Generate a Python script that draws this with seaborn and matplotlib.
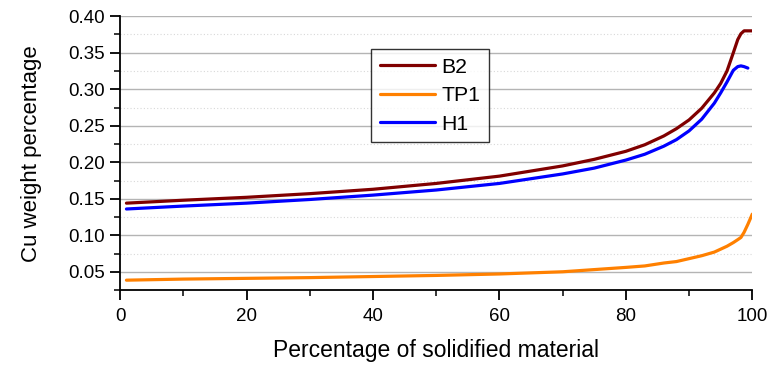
import numpy as np
import pandas as pd
import seaborn as sns
import matplotlib.pyplot as plt
from matplotlib.ticker import MultipleLocator

# Percentage of solidified material
solid_pct = [1, 10, 20, 30, 40, 50, 60, 70, 75, 80, 83, 86, 88, 90, 92, 94,
             95, 96, 97, 97.7, 98.2, 98.7, 99.3, 100]

# Cu weight percentage per alloy
b2 = [0.144, 0.148, 0.152, 0.157, 0.163, 0.171, 0.181, 0.195, 0.204, 0.215,
      0.224, 0.236, 0.246, 0.258, 0.274, 0.295, 0.308, 0.325, 0.350, 0.368,
      0.376, 0.380, 0.380, 0.380]
tp1 = [0.0385, 0.040, 0.041, 0.042, 0.0435, 0.045, 0.047, 0.050, 0.053, 0.056,
       0.058, 0.062, 0.064, 0.068, 0.072, 0.077, 0.081, 0.085, 0.090, 0.094,
       0.097, 0.104, 0.115, 0.129]
h1 = [0.136, 0.140, 0.144, 0.149, 0.155, 0.162, 0.171, 0.184, 0.192, 0.203,
      0.211, 0.222, 0.231, 0.243, 0.259, 0.281, 0.295, 0.310, 0.326, 0.331,
      0.332, 0.331, 0.329, np.nan]

series_names = ["B2", "TP1", "H1"]
series_colors = ["#800000", "#FF8000", "#0000FF"]

df = pd.DataFrame({
    "x": solid_pct * 3,
    "y": b2 + tp1 + h1,
    "alloy": [n for n in series_names for _ in solid_pct],
})

sns.set_style("white")
plt.rcParams["font.family"] = ["Liberation Sans", "DejaVu Sans"]
plt.rcParams["text.color"] = "black"
plt.rcParams["axes.labelcolor"] = "black"

fig = plt.figure(figsize=(7.7, 3.69), dpi=100)
ax = fig.add_axes([0.156, 0.214, 0.821, 0.742])

sns.lineplot(data=df, x="x", y="y", hue="alloy", hue_order=series_names,
             palette=series_colors, linewidth=2.3, ax=ax)

ax.set_xlim(0, 100)
ax.set_ylim(0.025, 0.40)
ax.xaxis.set_major_locator(MultipleLocator(20))
ax.xaxis.set_minor_locator(MultipleLocator(10))
ax.yaxis.set_major_locator(MultipleLocator(0.05))
ax.yaxis.set_minor_locator(MultipleLocator(0.025))
ax.yaxis.set_major_formatter(plt.FormatStrFormatter("%.2f"))

ax.grid(True, which="major", axis="y", color="#b4b4b4", linewidth=1.0, linestyle="-")
ax.grid(True, which="minor", axis="y", color="#d8d8d8", linewidth=0.8, linestyle=(0, (1, 2)))
ax.set_axisbelow(True)

for s in ["top", "right"]:
    ax.spines[s].set_visible(False)
for s in ["left", "bottom"]:
    ax.spines[s].set_color("black")
    ax.spines[s].set_linewidth(1.3)

ax.tick_params(which="major", direction="out", length=7.5, width=1.3,
               labelsize=13.5, colors="black", left=True, bottom=True)
ax.tick_params(which="minor", direction="out", length=4, width=1.1,
               colors="black", left=True, bottom=True)
ax.tick_params(axis="y", which="major", pad=3.5)
ax.tick_params(axis="x", which="major", pad=5.5)

ax.set_xlabel("Percentage of solidified material", fontsize=16.5, labelpad=10)
ax.set_ylabel("Cu weight percentage", fontsize=16, labelpad=19)

leg = ax.legend(loc="upper left", bbox_to_anchor=(0.397, 0.88), borderaxespad=0,
                fontsize=15.3, frameon=True, fancybox=False, handlelength=2.6,
                handletextpad=0.3, labelspacing=0.45, borderpad=0.4)
leg.get_frame().set_edgecolor("black")
leg.get_frame().set_linewidth(1.0)
for line in leg.get_lines():
    line.set_linewidth(2.3)

fig.savefig("out.png", dpi=100)
